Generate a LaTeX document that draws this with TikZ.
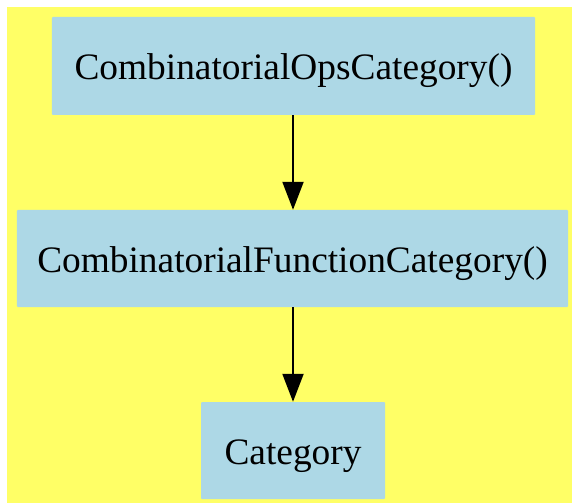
\documentclass[tikz,border=0pt]{standalone}
\usepackage{fontspec}
\setmainfont{Liberation Serif}
\usetikzlibrary{arrows.meta}
\definecolor{bgyellow}{HTML}{FFFF66}
\definecolor{boxblue}{HTML}{ADD8E6}
\begin{document}
\begin{tikzpicture}[x=1bp,y=-1bp,
  catbox/.style={fill=boxblue, draw=none, rounded corners=1bp, inner sep=0pt,
    font=\fontsize{37.5}{40}\selectfont, text=black, text height=28bp, text depth=1bp},
  edge/.style={line width=2bp, -{Triangle[length=28bp,width=21bp]}}]
\fill[white] (0,0) rectangle (572,503);
\useasboundingbox (0,0) rectangle (572,503);
\fill[bgyellow] (7,7) rectangle (572,503);
\node[catbox, minimum width=483bp, minimum height=98bp] (ops) at (293.5,66) {CombinatorialOpsCategory()};
\node[catbox, minimum width=551bp, minimum height=97bp] (fun) at (292.5,258.5) {CombinatorialFunctionCategory()};
\node[catbox, minimum width=184bp, minimum height=97bp] (cat) at (293,450.5) {Category};
\draw[edge] (ops.south -| cat.center) -- (fun.north -| cat.center);
\draw[edge] (fun.south -| cat.center) -- (cat.north);
\end{tikzpicture}
\end{document}
